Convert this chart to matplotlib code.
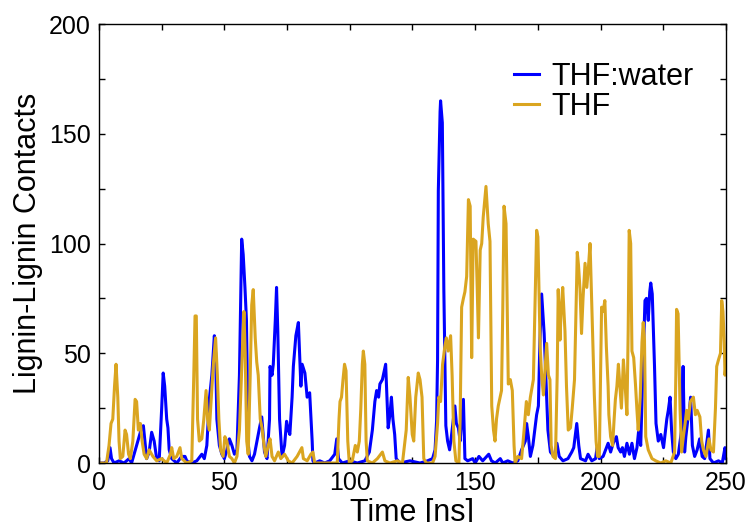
import matplotlib
matplotlib.use('Agg')
import matplotlib.pyplot as plt
from matplotlib.ticker import MultipleLocator

plt.rcParams['font.family'] = ['Liberation Sans', 'DejaVu Sans']

# THF:water (blue) - time [ns], contacts
water_t = [0, 2, 3.5, 4.4, 5, 6, 8, 10, 12, 13, 14, 15, 16, 17, 17.7, 18.5, 19, 20, 21, 22, 23, 24,
           25, 25.6, 26.2, 27, 27.5, 28, 29, 31, 33, 34.3, 35, 37, 39, 41, 42, 43, 44, 45, 46, 46.5,
           47, 48, 49, 50, 51, 52, 53, 54, 55, 56, 56.9, 57.5, 58.2, 58.8, 59.5, 60, 61, 62, 63, 64,
           64.9, 65.5, 66, 67, 68, 68.2, 69, 69.5, 70.3, 70.8, 71.3, 72, 73, 74, 74.8, 75.5, 76.1, 77,
           77.5, 78.5, 79.5, 80, 80.5, 81, 82.1, 83, 84, 85, 85.3, 86, 88, 90, 92, 94, 94.8, 95.5, 97,
           100, 103, 106, 107.8, 109, 110, 110.7, 111.5, 112, 113, 114.3, 114.8, 115.3, 116, 116.6,
           117.2, 117.9, 118.5, 120, 124, 128, 131, 133, 134, 134.6, 135, 135.3, 136, 136.2, 136.9,
           137.5, 138.3, 139, 139.8, 140.5, 141.3, 141.9, 142.5, 143.3, 144, 144.7, 145.3, 145.9, 147,
           149, 150, 151.5, 153, 155.4, 156.5, 158, 160, 161, 163, 165, 167, 168.5, 170, 170.5, 171.2,
           172, 173, 174.5, 175.2, 175.8, 176.5, 177.5, 178.2, 179, 180, 181.5, 182.6, 183.5, 185, 187,
           188.5, 189.3, 190.5, 191.3, 192, 194, 195, 196.5, 198, 198.6, 199.5, 201, 202, 203, 204,
           205, 206.3, 207, 208, 208.7, 209.5, 210.5, 211.5, 212.5, 213.5, 214.5, 215.2, 216, 216.8,
           217.7, 218.3, 219, 219.6, 220, 220.6, 221.5, 222.1, 223, 224, 225.1, 226.4, 227, 227.7,
           228.3, 229, 230, 231, 232.3, 232.9, 233.5, 234, 234.8, 235.5, 235.9, 236.6, 237.5, 238.5,
           239.5, 240.5, 241.5, 243, 243.6, 245, 247, 248.5, 249.6, 250]
water_v = [0, 0, 1, 7, 2, 0, 1, 0, 2, 0, 4, 8, 12, 16, 17, 8, 2, 5, 14, 10, 2, 1,
           25, 41, 35, 20, 16, 6, 2, 0, 3, 3, 1, 0, 1, 4, 2, 8, 29, 40, 58, 50,
           20, 8, 4, 2, 6, 11, 8, 4, 6, 40, 102, 95, 80, 65, 9, 3, 1, 4, 10, 16,
           21, 12, 5, 2, 20, 44, 40, 45, 65, 80, 60, 20, 3, 8, 19, 15, 13, 30,
           44, 58, 64, 50, 35, 45, 41, 30, 32, 10, 1, 0, 1, 0, 1, 4, 11, 2, 0,
           1, 0, 1, 5, 15, 28, 33, 30, 36, 38, 45, 30, 16, 22, 30,
           20, 13, 2, 0, 1, 0, 1, 2, 6, 19, 47, 124, 160, 165, 155,
           79, 17, 10, 6, 12, 20, 26, 18, 16, 10, 20, 29, 2, 1,
           2, 0, 3, 1, 4, 1, 0, 2, 0, 1, 0, 1, 6, 10, 18, 12,
           3, 8, 22, 26, 55, 77, 59, 38, 15, 5, 3, 9, 3, 1, 2,
           5, 7, 18, 8, 2, 1, 4, 1, 2, 7, 2, 3, 6, 9, 5,
           9, 12, 7, 5, 7, 3, 9, 4, 9, 2, 7, 15, 8, 40,
           74, 75, 65, 78, 82, 77, 44, 18, 10, 13, 7, 20, 24, 30,
           15, 5, 2, 4, 15, 44, 5, 12, 20, 25, 30, 8, 3, 6,
           11, 3, 2, 15, 2, 0, 1, 0, 7, 2]

# THF (gold)
thf_t = [0, 3, 4, 4.8, 5.5, 6.2, 6.8, 7.5, 8, 8.5, 9.5, 10.4, 11, 11.8, 12.5, 13.5, 14.4, 15, 15.7,
         16.5, 17.2, 18, 19, 20, 21.5, 23, 25, 27, 28.5, 29, 29.8, 31, 32.3, 33, 35, 37, 37.8, 38.3,
         38.8, 39.3, 40, 41, 41.8, 42.7, 43.3, 44, 44.8, 45.6, 46.5, 47.2, 47.8, 48.5, 49.5, 50.2, 51,
         52, 53, 54, 55, 56, 57.3, 57.8, 58.3, 58.9, 59.5, 60.3, 60.9, 61.5, 62.3, 62.9, 63.5, 64.3,
         65, 65.8, 66.5, 67.5, 68.2, 69, 70, 71.5, 72.5, 74, 75.5, 77, 79, 80.9, 81.5, 83, 84.5, 85.3,
         86, 90, 95, 95.7, 96.1, 96.7, 97.3, 97.9, 98.5, 99.2, 99.8, 101, 102.2, 103, 103.8, 104.4,
         105, 105.4, 106, 106.5, 107, 109, 111, 113, 114, 116, 119, 121, 122.5, 123.3, 124, 124.9,
         125.5, 126.3, 127.3, 128, 128.8, 129.5, 130.5, 133, 134, 135, 135.5, 136.2, 137, 137.9,
         138.5, 139.2, 140.2, 140.8, 141.5, 142.3, 143.5, 144, 144.6, 145.3, 145.9, 146.6, 147.3,
         148, 148.6, 149.2, 150.3, 150.8, 151.3, 152, 152.6, 153.2, 154.3, 155.2, 155.9, 156.6,
         157.3, 157.9, 158.5, 159.2, 160.5, 161, 161.5, 162.3, 163.2, 164, 164.8, 165.5, 165.9, 167,
         168.5, 169.5, 170.4, 171.2, 172, 173.2, 174, 174.5, 175, 175.9, 176.5, 177.2, 178, 178.5,
         179.2, 179.8, 180.3, 181, 182, 182.7, 183.1, 183.8, 184.3, 184.9, 185.8, 186.4, 187.1, 188,
         188.7, 189.6, 190.2, 190.7, 191.2, 191.8, 192.4, 193, 193.8, 194.5, 195.2, 195.8, 196.4,
         197, 197.5, 198.2, 198.8, 199.5, 200, 200.4, 201, 201.7, 202.3, 203, 203.3, 204, 204.8,
         205.4, 205.9, 206.5, 207.1, 207.7, 208.3, 209.1, 209.8, 210.5, 211, 211.4, 212, 212.5,
         213.2, 213.9, 214.5, 215, 215.8, 216.5, 217, 217.5, 218, 219, 220.5, 222, 224, 226, 228,
         229.5, 230, 230.3, 230.9, 231.4, 231.7, 232.3, 233, 233.7, 234.3, 235, 235.8, 237, 237.8,
         238.5, 239.6, 240.3, 241, 242, 243.2, 244, 245, 245.8, 246.3, 247, 247.8, 248.3, 248.8,
         249.3, 249.6, 250]
thf_v = [0, 0, 8, 18, 20, 35, 45, 30, 10, 2, 3, 15, 13, 4, 2, 10, 29, 28, 15,
         18, 10, 4, 2, 6, 3, 1, 2, 0, 4, 7, 2, 3, 7, 2, 0, 1, 40, 67,
         67, 20, 10, 11, 20, 33, 20, 15, 30, 45, 57, 40, 20, 6, 3, 12, 10,
         3, 2, 0, 3, 15, 55, 69, 50, 10, 4, 40, 72, 79, 57, 46, 40, 20,
         16, 8, 3, 8, 11, 3, 1, 5, 2, 4, 1, 0, 3, 7, 2, 1, 4, 5,
         0, 0, 0, 20, 28, 30, 38, 45, 42, 10, 0, 1, 8, 5, 10, 25,
         45, 51, 45, 10, 1, 0, 2, 5, 1, 0, 1, 0, 15, 39, 30, 13,
         10, 30, 41, 38, 30, 2, 0, 0, 3, 18, 30, 28, 45, 53,
         57, 51, 58, 40, 10, 1, 0, 20, 71, 75, 78, 85, 120,
         117, 48, 102, 101, 80, 57, 97, 100, 112, 126, 109, 101, 26,
         15, 10, 20, 26, 33, 70, 117, 109, 36, 38, 33, 8, 0, 3,
         2, 15, 28, 22, 30, 38, 80, 106, 103, 53, 40, 31, 45, 54.5,
         40, 38, 8, 3, 2, 40, 79, 56, 70, 80, 60, 35, 15, 16,
         25, 38, 70, 96, 90, 79, 59, 75, 91, 80, 90, 100, 75,
         50, 31, 10, 3, 3, 40, 71, 69, 74, 53, 35, 22, 12, 8,
         20, 29, 35, 45, 35, 25, 47, 35, 22, 60, 106, 100, 51,
         48, 36, 24, 15, 30, 55, 64, 56, 12, 6, 2, 1, 0, 1, 0,
         5, 40, 70, 68, 40, 24, 5, 12, 18, 24, 20, 28, 30, 22,
         24, 21, 10, 6, 3, 11, 6, 5, 25, 44, 47, 50, 74, 69,
         55, 40, 45]

fig = plt.figure(figsize=(7.51, 5.22), dpi=100)
ax = fig.add_axes([0.1318, 0.113, 0.8349, 0.841])

ax.plot(water_t, water_v, color='#0000ff', lw=2.2, label='THF:water')
ax.plot(thf_t, thf_v, color='#daa520', lw=2.2, label='THF')

ax.set_xlim(0, 250)
ax.set_ylim(0, 200)
ax.xaxis.set_major_locator(MultipleLocator(50))
ax.xaxis.set_minor_locator(MultipleLocator(25))
ax.yaxis.set_major_locator(MultipleLocator(50))
ax.yaxis.set_minor_locator(MultipleLocator(25))
ax.tick_params(which='both', direction='in', top=True, right=True, length=4.5, width=1.0,
               labelsize=18, pad=6)
for s in ax.spines.values():
    s.set_linewidth(1.0)

ax.set_xlabel('Time [ns]', fontsize=22, labelpad=2)
ax.set_ylabel('Lignin-Lignin Contacts', fontsize=22, labelpad=4)

ax.legend(loc='upper left', bbox_to_anchor=(0.643, 0.941), frameon=False, fontsize=22,
          handlelength=0.82, handletextpad=0.4, labelspacing=0.0, borderaxespad=0)

fig.savefig('out.png', dpi=100)
